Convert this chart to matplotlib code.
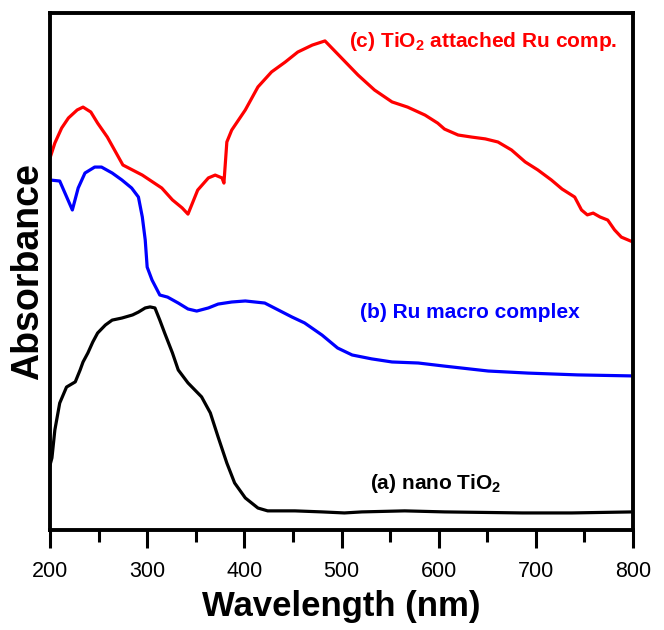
import matplotlib
matplotlib.use("Agg")
import matplotlib.pyplot as plt
from matplotlib.ticker import MultipleLocator, NullLocator

plt.rcParams['font.family'] = ['Liberation Sans', 'DejaVu Sans']
plt.rcParams['mathtext.fontset'] = 'custom'
plt.rcParams['mathtext.rm'] = 'Liberation Sans'
plt.rcParams['mathtext.bf'] = 'Liberation Sans:bold'

# (c) TiO2 attached Ru complex
wl_c = [200, 205, 212, 219, 228, 234, 242, 249, 259, 275, 295, 315, 326, 336, 342,
        352, 363, 370, 377, 379, 382, 387, 401, 414, 428, 442, 455, 470, 483, 500,
        517, 534, 552, 568, 586, 599, 606, 620, 634, 648, 661, 675, 689, 702, 716,
        727, 740, 747, 753, 759, 766, 774, 781, 788, 800]
abs_c = [1.439, 1.497, 1.555, 1.594, 1.625, 1.636, 1.617, 1.574, 1.520, 1.412, 1.373,
         1.323, 1.277, 1.246, 1.222, 1.315, 1.362, 1.373, 1.362, 1.342, 1.501, 1.547,
         1.625, 1.714, 1.772, 1.810, 1.849, 1.876, 1.892, 1.826, 1.760, 1.702, 1.656,
         1.636, 1.605, 1.574, 1.551, 1.528, 1.520, 1.513, 1.501, 1.470, 1.424, 1.393,
         1.354, 1.319, 1.288, 1.238, 1.219, 1.226, 1.211, 1.199, 1.161, 1.133, 1.114]

# (b) Ru macro complex
wl_b = [200, 210, 223, 229, 236, 246, 253, 264, 274, 284, 291, 295, 298, 300, 305,
        313, 321, 332, 342, 351, 363, 373, 387, 401, 421, 435, 449, 462, 480, 496,
        511, 531, 552, 579, 606, 651, 692, 743, 800]
abs_b = [1.354, 1.350, 1.238, 1.323, 1.381, 1.404, 1.404, 1.381, 1.354, 1.323, 1.288,
         1.211, 1.122, 1.017, 0.967, 0.909, 0.901, 0.878, 0.855, 0.847, 0.859, 0.874,
         0.882, 0.886, 0.878, 0.851, 0.824, 0.801, 0.754, 0.704, 0.677, 0.662, 0.650,
         0.646, 0.634, 0.615, 0.607, 0.600, 0.596]

# (a) nano TiO2
wl_a = [200, 202, 205, 210, 217, 226, 231, 234, 239, 244, 249, 257, 264, 274, 285,
        291, 298, 303, 308, 313, 318, 326, 332, 342, 356, 365, 373, 382, 390, 401,
        414, 424, 452, 480, 503, 521, 565, 606, 686, 737, 800]
abs_a = [0.251, 0.279, 0.387, 0.491, 0.553, 0.573, 0.619, 0.650, 0.685, 0.727, 0.762,
         0.793, 0.812, 0.820, 0.832, 0.843, 0.859, 0.863, 0.859, 0.812, 0.762, 0.685,
         0.619, 0.569, 0.515, 0.453, 0.360, 0.259, 0.182, 0.124, 0.085, 0.074, 0.074,
         0.070, 0.066, 0.070, 0.074, 0.070, 0.066, 0.066, 0.070]

x_ticks = [200, 300, 400, 500, 600, 700, 800]

fig = plt.figure(figsize=(6.64, 6.30), dpi=100)
ax = fig.add_axes([50 / 664, 100 / 630, 583 / 664, 517 / 630])

ax.plot(wl_c, abs_c, color='#ff0000', lw=2.3, solid_joinstyle='round')
ax.plot(wl_b, abs_b, color='#0000ff', lw=2.3, solid_joinstyle='round')
ax.plot(wl_a, abs_a, color='black', lw=2.3, solid_joinstyle='round')

ax.set_xlim(200, 800)
ax.set_ylim(0, 2.0)
ax.set_xticks(x_ticks)
ax.set_xticklabels([str(t) for t in x_ticks])
ax.xaxis.set_minor_locator(MultipleLocator(50))
ax.yaxis.set_major_locator(NullLocator())
ax.yaxis.set_minor_locator(NullLocator())

for sp in ax.spines.values():
    sp.set_linewidth(2.8)

ax.tick_params(axis='x', which='major', direction='out', length=13, width=2.2,
               labelsize=15.5, pad=9)
ax.tick_params(axis='x', which='minor', direction='out', length=8.5, width=2.2)

ax.set_xlabel('Wavelength (nm)', fontsize=25, fontweight='bold', labelpad=6)
ax.set_ylabel('Absorbance', fontsize=27, fontweight='bold', labelpad=3)

ax.text(508, 1.888, r'(c) TiO$_\mathbf{2}$ attached Ru comp.', color='#ff0000',
        fontsize=15, fontweight='bold', ha='left', va='center')
ax.text(519, 0.843, '(b) Ru macro complex', color='#0000ff',
        fontsize=15, fontweight='bold', ha='left', va='center')
ax.text(529, 0.178, r'(a) nano TiO$_\mathbf{2}$', color='black',
        fontsize=15, fontweight='bold', ha='left', va='center')

fig.savefig('out.png', dpi=100)
